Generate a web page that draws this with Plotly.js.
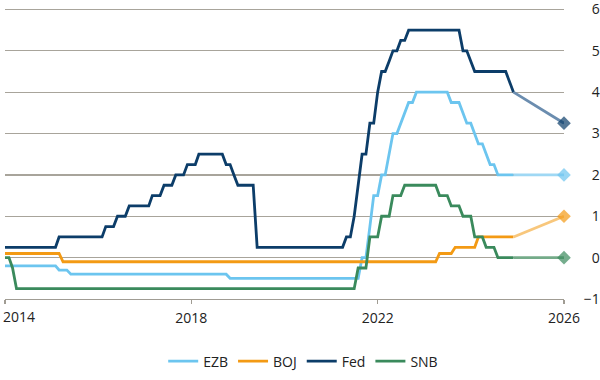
<!DOCTYPE html>
<html><head><meta charset="utf-8">
<script src="https://cdn.plot.ly/plotly-3.0.1.min.js"></script>
<style>html,body{margin:0;padding:0;background:#fff}#chart{width:600px;height:380px}</style>
</head><body><div id="chart"></div>
<script>
// Policy rates (%), change points (axis-year frame)
const ezbDates = ['2014-01','2015-02','2015-03','2015-05','2015-06','2018-10','2018-11','2021-08','2021-09','2021-10','2021-11','2021-12','2022-01','2022-02','2022-03','2022-04','2022-05','2022-06','2022-07','2022-08','2022-09','2022-10','2022-11','2023-07','2023-08','2023-10','2023-11','2023-12','2024-01','2024-02','2024-03','2024-04','2024-05','2024-06','2024-07','2024-08','2024-12'];
const ezbValues = [-0.2,-0.2,-0.3,-0.3,-0.4,-0.4,-0.5,-0.5,0,0,0.75,1.5,1.5,2.0,2.0,2.5,3.0,3.0,3.25,3.5,3.75,3.75,4.0,4.0,3.75,3.75,3.5,3.25,3.25,3.0,2.75,2.75,2.5,2.25,2.25,2.0,2.0];

const bojDates = ['2014-01','2015-03','2015-04','2023-04','2023-05','2023-08','2023-09','2024-02','2024-03','2024-12'];
const bojValues = [0.1,0.1,-0.1,-0.1,0.1,0.1,0.25,0.25,0.5,0.5];

const fedDates = ['2014-01','2015-02','2015-03','2016-02','2016-03','2016-05','2016-06','2016-08','2016-09','2017-02','2017-03','2017-05','2017-06','2017-08','2017-09','2017-11','2017-12','2018-02','2018-03','2018-09','2018-10','2018-11','2018-12','2019-01','2019-05','2019-06','2021-04','2021-05','2021-06','2021-07','2021-08','2021-09','2021-10','2021-11','2021-12','2022-01','2022-02','2022-03','2022-04','2022-05','2022-06','2022-07','2022-08','2022-09','2023-10','2023-11','2023-12','2024-01','2024-02','2024-10','2024-11','2024-12'];
const fedValues = [0.25,0.25,0.5,0.5,0.75,0.75,1.0,1.0,1.25,1.25,1.5,1.5,1.75,1.75,2.0,2.0,2.25,2.25,2.5,2.5,2.25,2.25,2.0,1.75,1.75,0.25,0.25,0.5,0.5,1.0,1.75,2.5,2.5,3.25,3.25,4.0,4.5,4.5,4.75,5.0,5.0,5.25,5.25,5.5,5.5,5.0,5.0,4.75,4.5,4.5,4.25,4.0];

const snbDates = ['2014-01','2014-02','2014-03','2014-04','2021-07','2021-08','2021-10','2021-11','2022-01','2022-02','2022-04','2022-05','2022-07','2022-08','2023-04','2023-05','2023-07','2023-08','2023-10','2023-11','2024-01','2024-02','2024-04','2024-05','2024-07','2024-08','2024-12'];
const snbValues = [0,0,-0.25,-0.75,-0.75,-0.25,-0.25,0.5,0.5,1.0,1.0,1.5,1.5,1.75,1.75,1.5,1.5,1.25,1.25,1.0,1.0,0.5,0.5,0.25,0.25,0,0];

// Forecast segments (last actual value -> 2026 marker)
const forecastDates = ['2024-12','2026-01'];
const ezbForecast = [2.0, 2.0];
const bojForecast = [0.5, 1.0];
const fedForecast = [4.0, 3.25];
const snbForecast = [0, 0];

const seriesNames = ['EZB','BOJ','Fed','SNB'];
const xTickVals = ['2014-01-01','2018-01-01','2022-01-01','2026-01-01'];
const xTickText = ['2014','2018','2022','2026'];
const yTickVals = [-1,0,1,2,3,4,5,6];
const yTickText = ['\u22121','0','1','2','3','4','5','6'];

const colors = {EZB:'#6cc5ef', BOJ:'#f39a14', Fed:'#0c3d69', SNB:'#3a8a5c'};
const lightColors = {EZB:'#9fd8f4', BOJ:'#f8c77c', Fed:'#6b8daf', SNB:'#74ab89'};

const actual = {EZB:[ezbDates,ezbValues], BOJ:[bojDates,bojValues], Fed:[fedDates,fedValues], SNB:[snbDates,snbValues]};
const fc = {EZB:ezbForecast, BOJ:bojForecast, Fed:fedForecast, SNB:snbForecast};

const traces = [];
seriesNames.forEach(n => {
  traces.push({x: actual[n][0], y: actual[n][1], type:'scatter', mode:'lines', name:n,
    line:{color:colors[n], width:2.8}, hoverinfo:'skip'});
});
seriesNames.forEach(n => {
  traces.push({x: forecastDates, y: fc[n], type:'scatter', mode:'lines+markers', showlegend:false,
    line:{color:lightColors[n], width:2.8},
    marker:{symbol:'diamond', size:[0,10.5], color:colors[n], line:{width:0}},
    cliponaxis:false, hoverinfo:'skip'});
});

const font = {family:'"Open Sans", "Noto Sans", sans-serif', size:14, color:'#222'};
const layout = {
  width:600, height:380,
  margin:{l:5, r:36, t:8, b:81, autoexpand:false},
  paper_bgcolor:'#fff', plot_bgcolor:'#fff',
  font: font,
  showlegend:true,
  legend:{orientation:'h', x:0.283, xanchor:'left', y:-0.215, yanchor:'middle', font:font, bgcolor:'rgba(0,0,0,0)'},
  xaxis:{type:'date', range:['2013-12-31 20:00','2026-01-01 04:00'], tickmode:'array', tickvals:xTickVals,
    ticktext: xTickText.map((t,i)=> i===0 ? '' : t),
    ticklabeloverflow:'allow', ticklabelstandoff:2,
    showgrid:false, zeroline:false, showline:true, linecolor:'#a09c93', linewidth:1.2,
    ticks:'outside', ticklen:4, tickcolor:'#a09c93', tickwidth:1.2, tickfont:font, fixedrange:true},
  yaxis:{side:'right', range:[-1.0, 6.035], tickmode:'array', tickvals:yTickVals,
    ticktext: yTickText.map(t => t.length===1 ? '\u2007'+t : t),
    ticklabeloverflow:'allow',
    showgrid:true, gridcolor:'#a8a49b', gridwidth:1.2, zeroline:false, showline:false,
    ticks:'outside', ticklen:16, tickcolor:'rgba(0,0,0,0)', tickfont:font, fixedrange:true},
  annotations:[{x:xTickVals[0], xref:'x', y:0, yref:'paper', xanchor:'left', yanchor:'middle',
    yshift:-17, xshift:-4, text:xTickText[0], showarrow:false, font:font}]
};
Plotly.newPlot('chart', traces, layout, {staticPlot:true, displayModeBar:false});
</script>
</body></html>
